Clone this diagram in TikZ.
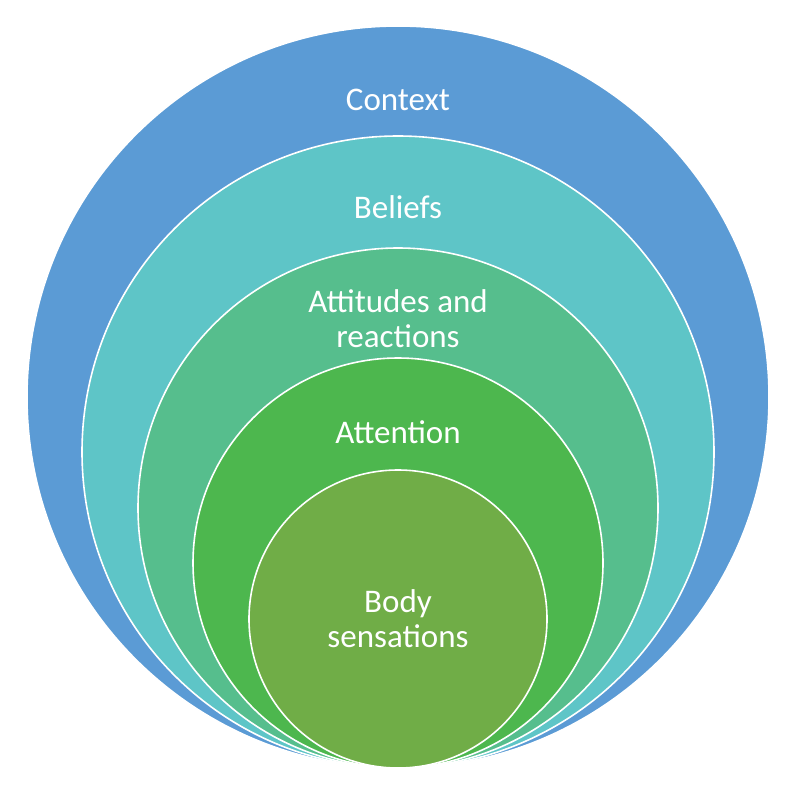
\documentclass[tikz,border=0pt]{standalone}
\usepackage{fontspec}
\setmainfont{Carlito}
\usepackage{tikz}
\usetikzlibrary{positioning}
\usepackage{xcolor}

\definecolor{ctxblue}{HTML}{5B9BD5}
\definecolor{belcyan}{HTML}{5EC5C7}
\definecolor{attteal}{HTML}{56BE8D}
\definecolor{attgreen}{HTML}{4DB74E}
\definecolor{bodygreen}{HTML}{70AD47}

\begin{document}
\begin{tikzpicture}[x=1pt, y=-1pt,
    ring/.style={circle, draw=white, line width=1.6pt, inner sep=0pt},
    lbl/.style={text=white, font=\fontsize{33}{35}\selectfont, align=center, anchor=base}]
  \useasboundingbox (0,0) rectangle (800,793);
  % nested circles, all touching at the bottom
  \node[ring, fill=ctxblue,   minimum size=742pt] (context)   at (398,397) {};
  \node[ring, fill=belcyan,   minimum size=632pt] (beliefs)   at (398,452) {};
  \node[ring, fill=attteal,   minimum size=520pt] (attitudes) at (398,508) {};
  \node[ring, fill=attgreen,  minimum size=410pt] (attention) at (398,563) {};
  \node[ring, fill=bodygreen, minimum size=298pt] (body)      at (398,619) {};
  % labels (base = last line)
  \node[lbl] (contextlbl)   at (398,110) {Context};
  \node[lbl] (beliefslbl)   at (398,218) {Beliefs};
  \node[lbl] (attitudeslbl) at (398,347) {Attitudes and\\reactions};
  \node[lbl] (attentionlbl) at (398,443) {Attention};
  \node[lbl] (bodylbl)      at (398,647) {Body\\sensations};
\end{tikzpicture}
\end{document}
